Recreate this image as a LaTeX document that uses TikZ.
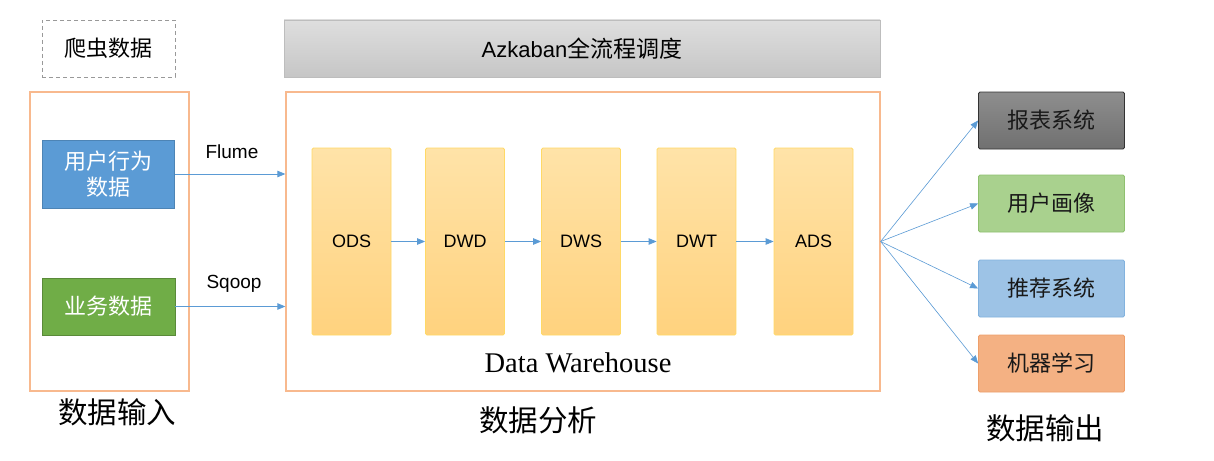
\documentclass[tikz,border=0pt]{standalone}
\usepackage{fontspec}
\setmainfont{Liberation Sans}
\newfontfamily\cjk{Noto Sans CJK SC}
\newfontfamily\serifw{Liberation Serif}
\usetikzlibrary{arrows.meta,shadings}
\definecolor{orangeB}{HTML}{F8B98E}
\definecolor{arrowC}{HTML}{5B9BD5}
\definecolor{blueF}{HTML}{5B9BD5}
\definecolor{greenF}{HTML}{70AD47}
\definecolor{layerTop}{HTML}{FFE3A8}
\definecolor{layerBot}{HTML}{FFD27E}
\definecolor{layerD}{HTML}{FFD966}
\definecolor{grayTop}{HTML}{DEDEDE}
\definecolor{grayBot}{HTML}{C6C6C6}
\definecolor{grayD}{HTML}{BDBDBD}
\definecolor{darkTop}{HTML}{8E8E8E}
\definecolor{darkBot}{HTML}{707070}
\definecolor{lgreen}{HTML}{A9D18E}
\definecolor{lgreenD}{HTML}{8FC06F}
\definecolor{lblue}{HTML}{9DC3E6}
\definecolor{lblueD}{HTML}{82B2DE}
\definecolor{salmon}{HTML}{F4B183}
\definecolor{salmonD}{HTML}{EE9F6A}
\tikzset{
  x=1pt, y=-1pt,
  frame/.style={draw=orangeB, line width=1.3pt, inner sep=0pt},
  layer/.style={draw=layerD, line width=0.8pt, top color=layerTop, bottom color=layerBot,
    minimum width=79pt, minimum height=187pt, inner sep=0pt, rounded corners=1.5pt,
    font=\fontsize{18}{22}\selectfont},
  srcbox/.style={line width=0.6pt, minimum width=132pt, inner sep=0pt, text=white,
    font=\cjk\fontsize{22}{26}\selectfont, align=center},
  outbox/.style={line width=0.8pt, minimum width=146pt, minimum height=57pt, inner sep=0pt,
    rounded corners=1.5pt, font=\cjk\fontsize{22}{24}\selectfont, text=black!90},
  flow/.style={draw=arrowC, line width=0.8pt, -{Triangle[length=8pt,width=6.5pt]}},
  lbl/.style={font=\fontsize{19}{22}\selectfont},
  bigl/.style={font=\cjk\fontsize{29.5}{32}\selectfont},
}
\begin{document}
\begin{tikzpicture}
\useasboundingbox[fill=white] (0,0) rectangle (1214,460);

% crawler (dashed)
\node[draw=black!40, dashed, dash pattern=on 4pt off 3pt, line width=0.9pt,
  minimum width=133pt, minimum height=57pt, inner sep=0pt,
  font=\cjk\fontsize{22}{24}\selectfont] (crawl) at (108.5,48.5) {爬虫数据};

% input frame
\node[frame, minimum width=159pt, minimum height=299pt] (inframe) at (109.5,241.5) {};
\node[srcbox, fill=blueF, draw=blueF!85!black, minimum height=68pt] (user) at (108.5,174) {用户行为\\数据};
\node[srcbox, fill=greenF, draw=greenF!80!black, minimum height=57pt, minimum width=133pt] (biz) at (108.5,306.5) {业务数据};

% azkaban bar
\node[draw=grayD, line width=0.8pt, top color=grayTop, bottom color=grayBot,
  minimum width=596pt, minimum height=57pt, inner sep=0pt,
  font=\fontsize{22}{24}\selectfont] (azk) at (582,48.5) {Azkaban{\cjk\fontsize{23}{24}\selectfont 全流程调度}};

% warehouse frame
\node[frame, minimum width=594pt, minimum height=299pt] (dw) at (583,241.5) {};
\node[font=\serifw\fontsize{28.5}{32}\selectfont] (dwlabel) at (578,363) {Data Warehouse};

% layers
\node[layer] (ods) at (351.5,241.5) {ODS};
\node[layer] (dwd) at (465,241.5) {DWD};
\node[layer] (dws) at (581,241.5) {DWS};
\node[layer] (dwt) at (696.5,241.5) {DWT};
\node[layer] (ads) at (813.5,241.5) {ADS};
\draw[flow] (ods) -- (dwd);
\draw[flow] (dwd) -- (dws);
\draw[flow] (dws) -- (dwt);
\draw[flow] (dwt) -- (ads);

% input arrows
\draw[flow] (user.east) -- (user.east -| dw.west);
\draw[flow] (biz.east) -- (biz.east -| dw.west);
\node[lbl] (flume) at (232,152) {Flume};
\node[lbl] (sqoop) at (234,284) {Sqoop};

% outputs
\node[outbox, draw=black!80, top color=darkTop, bottom color=darkBot] (o1) at (1051.5,120.5) {报表系统};
\node[outbox, draw=lgreenD, fill=lgreen] (o2) at (1051.5,203.5) {用户画像};
\node[outbox, draw=lblueD, fill=lblue] (o3) at (1051.5,288.5) {推荐系统};
\node[outbox, draw=salmonD, fill=salmon] (o4) at (1051.5,363.5) {机器学习};
\foreach \o in {o1,o2,o3,o4}{
  \draw[flow, line width=0.6pt] (dw.east) -- (\o.west);
}

% bottom labels
\node[bigl] (lin) at (117,412) {数据输入};
\node[bigl] (lana) at (538,420) {数据分析};
\node[bigl] (lout) at (1045,428) {数据输出};
\end{tikzpicture}
\end{document}
